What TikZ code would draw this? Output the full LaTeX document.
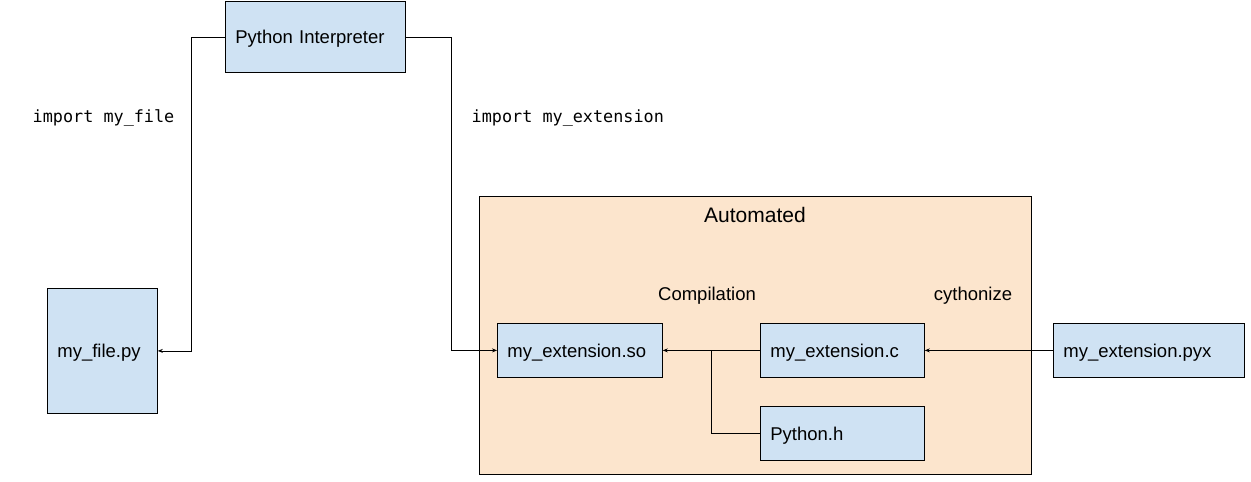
\documentclass[tikz,border=0pt]{standalone}
\usepackage{fontspec}
\setmainfont{Liberation Sans}
\setmonofont{DejaVu Sans Mono}
\usetikzlibrary{arrows.meta}

\definecolor{fileblue}{HTML}{CFE2F3}
\definecolor{autoorange}{HTML}{FCE5CD}

\tikzset{
  filebox/.style={draw, fill=fileblue, anchor=north west, align=left, inner xsep=10pt,
    text height=16pt, text depth=2pt, font=\fontsize{18.5}{22}\selectfont},
  note/.style={text height=16pt, text depth=2pt, font=\fontsize{18.5}{22}\selectfont},
  cmd/.style={anchor=west, font=\ttfamily\fontsize{16.8}{20}\selectfont},
}

\begin{document}
\begin{tikzpicture}[x=1pt, y=-1pt, >={Stealth[length=5pt, width=4pt]}, line width=0.8pt]
  \useasboundingbox (0, 0) rectangle (1251, 482);

  % automated part
  \node[draw, fill=autoorange, anchor=north west, minimum width=552pt, minimum height=278pt] (auto) at (479, 196) {};
  \node[note, font=\fontsize{21}{25}\selectfont] (autolabel) at (755, 215) {Automated};

  \node[filebox, text width=160pt, minimum height=71pt] (pyint) at (225, 1) {Python Interpreter};
  \node[filebox, text width=90pt, minimum height=125pt] (myfile) at (47, 288) {my\_file.py};
  \node[filebox, text width=145pt, minimum height=54pt] (extso) at (497, 323) {my\_extension.so};
  \node[filebox, text width=144pt, minimum height=54pt] (extc) at (760, 323) {my\_extension.c};
  \node[filebox, text width=144pt, minimum height=54pt] (pyh) at (760, 406) {Python.h};
  \node[filebox, text width=171pt, minimum height=54pt] (extpyx) at (1053, 323) {my\_extension.pyx};

  \node[cmd] (impfile) at (29, 118) {import my\_file};
  \node[cmd] (impext) at (468, 118) {import my\_extension};
  \node[note] (compile) at (707, 293) {Compilation};
  \node[note] (cython) at (973, 293) {cythonize};

  \coordinate (merge) at (711, 350);

  \draw[->] (pyint.west) -- ++(-34, 0) |- (myfile.east);
  \draw[->] (pyint.east) -- ++(46, 0) |- (extso.west);
  \draw[->] (extc.west) -- (extso.east);
  \draw (pyh.west) -| (merge);
  \draw[->] (extpyx.west) -- (extc.east);
\end{tikzpicture}
\end{document}
